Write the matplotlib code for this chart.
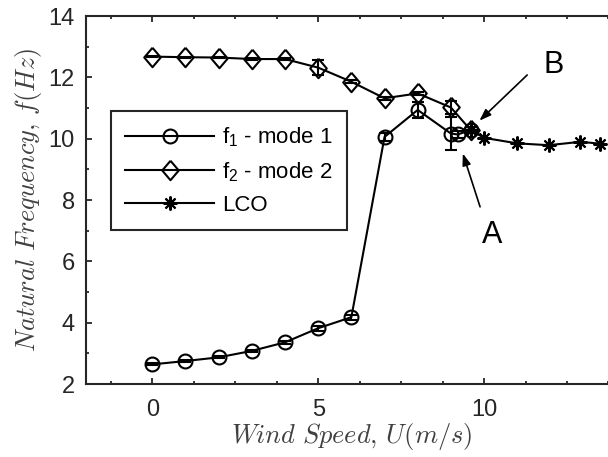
import matplotlib
matplotlib.use("Agg")
import matplotlib.pyplot as plt
from matplotlib.ticker import MultipleLocator, FixedLocator

# wind speed (m/s) and measured natural frequencies (Hz)
u_mode1 = [0, 1, 2, 3, 4, 5, 6, 7, 8, 9, 9.2, 9.6]
f_mode1 = [2.64, 2.75, 2.87, 3.08, 3.36, 3.82, 4.18, 10.06, 10.94, 10.17, 10.14, 10.28]
err_mode1 = [0.03, 0.03, 0.03, 0.04, 0.05, 0.08, 0.08, 0.12, 0.25, 0.55, 0.1, 0.1]

u_mode2 = [0, 1, 2, 3, 4, 5, 6, 7, 8, 9, 9.6]
f_mode2 = [12.68, 12.66, 12.65, 12.6, 12.6, 12.32, 11.86, 11.32, 11.48, 11.02, 10.28]
err_mode2 = [0.02, 0.02, 0.02, 0.02, 0.02, 0.25, 0.05, 0.05, 0.05, 0.2, 0.1]

u_lco = [9.6, 10.0, 11.0, 11.95, 12.9, 13.5]
f_lco = [10.28, 10.03, 9.85, 9.79, 9.9, 9.84]

labels = ["f$_1$ - mode 1", "f$_2$ - mode 2", "LCO"]

plt.rcParams["font.family"] = ["Liberation Sans", "DejaVu Sans"]
plt.rcParams["mathtext.fontset"] = "custom"
plt.rcParams["mathtext.rm"] = "Liberation Sans"
plt.rcParams["mathtext.it"] = "Liberation Sans:italic"

grey = "#262626"
diamond = [(0, 1), (0.85, 0), (0, -1), (-0.85, 0), (0, 1)]

fig = plt.figure(figsize=(6.08, 4.57), dpi=100)
ax = fig.add_axes([0.1414, 0.1597, 0.873, 0.805])

lw = 1.5
ax.errorbar(u_mode1, f_mode1, yerr=err_mode1, fmt="none", ecolor="k", elinewidth=lw, capsize=4, capthick=lw)
ax.errorbar(u_mode2, f_mode2, yerr=err_mode2, fmt="none", ecolor="k", elinewidth=lw, capsize=4, capthick=lw)
ax.plot(u_mode1, f_mode1, "k-", marker="o", ms=10, mfc="none", mew=1.5, lw=lw, label=labels[0])
ax.plot(u_mode2, f_mode2, "k-", marker=diamond, ms=14, mfc="none", mew=1.5, lw=lw, label=labels[1])
ax.plot(u_lco, f_lco, "k-", marker=(8, 2, 0), ms=10, mew=1.5, lw=lw, label=labels[2])

ax.set_xlim(-2, 14)
ax.set_ylim(2, 14)
ax.xaxis.set_major_locator(FixedLocator([0, 5, 10]))
ax.xaxis.set_minor_locator(MultipleLocator(1.25))
ax.yaxis.set_major_locator(MultipleLocator(2))
ax.yaxis.set_minor_locator(MultipleLocator(1))
ax.tick_params(which="both", direction="in", top=True, right=True, colors=grey, width=1.3)
ax.tick_params(which="major", length=4, labelsize=17)
ax.tick_params(axis="x", which="major", pad=11)
ax.tick_params(axis="y", which="major", pad=8)
ax.tick_params(which="minor", length=2.5)
for s in ax.spines.values():
    s.set_color(grey)
    s.set_linewidth(1.5)

ax.set_xlabel(r"$Wind\ Speed,\,U(m/s)$", fontsize=19, math_fontfamily="cm", color="#404040", labelpad=0)
ax.set_ylabel(r"$Natural\ Frequency,\,f(Hz)$", fontsize=19, math_fontfamily="cm", color="#404040", labelpad=3)

arrow = dict(arrowstyle="-|>,head_length=0.7,head_width=0.25", color="k", lw=1.2, shrinkA=0, shrinkB=0)
ax.annotate("", xy=(9.86, 10.59), xytext=(11.3, 12.08), arrowprops=arrow)
ax.annotate("", xy=(9.36, 9.52), xytext=(9.88, 7.78), arrowprops=arrow)
ax.text(12.1, 12.4, "B", fontsize=22, ha="center", va="center")
ax.text(10.23, 6.86, "A", fontsize=22, ha="center", va="center")

leg = ax.legend(loc="upper left", bbox_to_anchor=(0.047, 0.742), borderaxespad=0, fontsize=16,
                handlelength=4.0, handletextpad=0.35, labelspacing=0.5, borderpad=0.65,
                fancybox=False, framealpha=1)
leg.get_frame().set_edgecolor(grey)
leg.get_frame().set_linewidth(1.5)

fig.savefig("out.png", dpi=100)
